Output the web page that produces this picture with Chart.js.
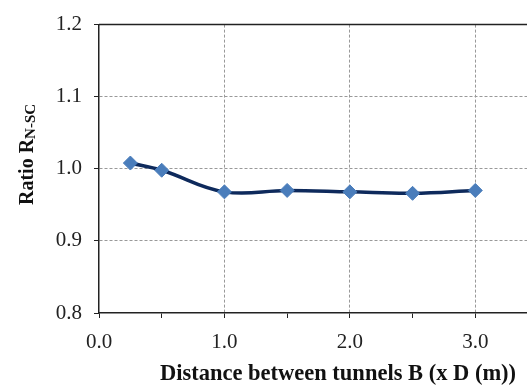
<!DOCTYPE html>
<html>
<head>
<meta charset="utf-8">
<script src="https://cdn.jsdelivr.net/npm/chart.js@4"></script>
<style>
  html, body { margin: 0; padding: 0; background: #fff; overflow: hidden; }
  #wrap { width: 527px; height: 385px; overflow: hidden; }
</style>
</head>
<body>
<div id="wrap"><canvas id="ratioChart" width="550" height="385"></canvas></div>
<script>
// Dados do gráfico
const distances = [0.25, 0.5, 1.0, 1.5, 2.0, 2.5, 3.0];
const ratios = [1.008, 0.998, 0.968, 0.970, 0.968, 0.966, 0.970];
const xTicks = [0.0, 1.0, 2.0, 3.0];
const yTicks = [0.8, 0.9, 1.0, 1.1, 1.2];

const serif = '"Liberation Serif", "Times New Roman", serif';

// Títulos dos eixos desenhados à mão (subscrito no eixo y)
const axisTitles = {
  id: 'axisTitles',
  afterDraw(chart) {
    const ctx = chart.ctx;
    const area = chart.chartArea;
    ctx.save();
    // linha superior do quadro
    ctx.strokeStyle = '#222';
    ctx.lineWidth = 1.5;
    ctx.beginPath();
    ctx.moveTo(area.left, area.top);
    ctx.lineTo(area.right, area.top);
    ctx.stroke();

    ctx.fillStyle = '#111';
    ctx.textBaseline = 'alphabetic';
    // título x
    ctx.font = 'bold 22.5px ' + serif;
    ctx.textAlign = 'center';
    ctx.fillText('Distance between tunnels B (x D (m))', 338, 380);

    // título y
    ctx.translate(33, 205);
    ctx.rotate(-Math.PI / 2);
    ctx.textAlign = 'left';
    ctx.font = 'bold 20px ' + serif;
    ctx.fillText('Ratio R', 0, 0);
    const w = ctx.measureText('Ratio R').width;
    ctx.font = 'bold 15px ' + serif;
    ctx.fillText('N-SC', w, 2);
    ctx.restore();
  }
};

new Chart(document.getElementById('ratioChart'), {
  type: 'scatter',
  data: {
    datasets: [{
      data: distances.map((d, i) => ({ x: d, y: ratios[i] })),
      showLine: true,
      borderColor: '#0e2a5c',
      borderWidth: 3.5,
      tension: 0.4,
      pointStyle: 'rectRot',
      pointRadius: 7,
      pointBackgroundColor: '#4a7dbb',
      pointBorderColor: '#4a7dbb',
      pointBorderWidth: 1
    }]
  },
  options: {
    responsive: false,
    animation: false,
    layout: { padding: { top: 22, left: 0, right: 4, bottom: 0 } },
    plugins: { legend: { display: false }, tooltip: { enabled: false } },
    scales: {
      x: {
        type: 'linear',
        min: 0,
        max: 3.5,
        afterFit(axis) { axis.height = 72; },
        ticks: {
          stepSize: 0.5,
          padding: 12,
          color: '#222',
          font: { family: serif, size: 21 },
          callback: v => xTicks.includes(v) ? v.toFixed(1) : ''
        },
        grid: {
          color: c => (c.tick && c.tick.value > 0 && c.tick.value % 1 === 0) ? '#999' : 'rgba(0,0,0,0)',
          tickColor: '#222',
          tickLength: 5,
          lineWidth: 1
        },
        border: { color: '#222', width: 1.5, dash: [3, 2] }
      },
      y: {
        min: 0.8,
        max: 1.2,
        afterFit(axis) { axis.width = 99; },
        ticks: {
          stepSize: 0.1,
          padding: 12,
          color: '#222',
          font: { family: serif, size: 21 },
          callback: v => yTicks.some(t => Math.abs(t - v) < 1e-6) ? v.toFixed(1) : ''
        },
        grid: {
          color: c => (c.tick && c.tick.value > 0.85 && c.tick.value < 1.15) ? '#999' : 'rgba(0,0,0,0)',
          tickColor: '#222',
          tickLength: 5,
          lineWidth: 1
        },
        border: { color: '#222', width: 1.5, dash: [3, 2] }
      }
    }
  },
  plugins: [axisTitles]
});
</script>
</body>
</html>
